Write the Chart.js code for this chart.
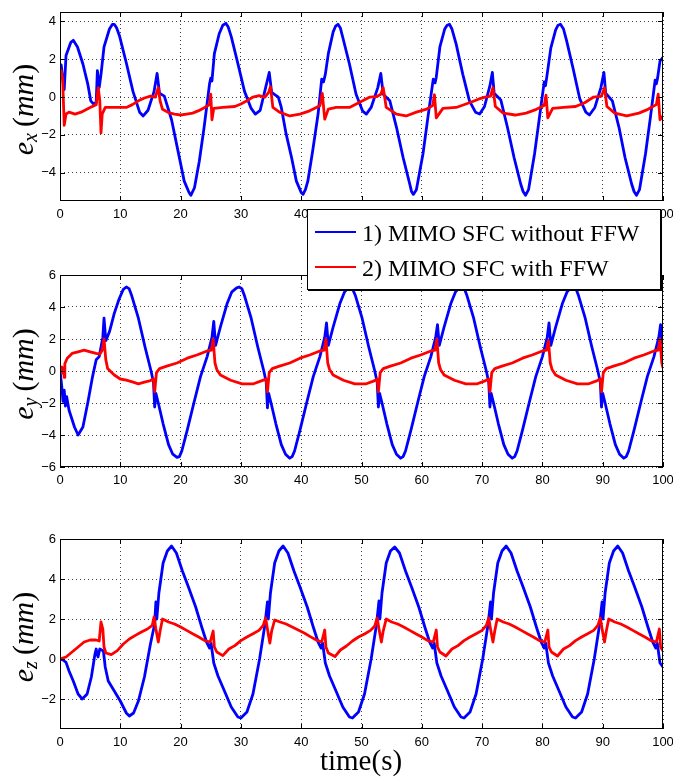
<!DOCTYPE html>
<html>
<head>
<meta charset="utf-8">
<script src="https://cdn.jsdelivr.net/npm/chart.js@4.4.0/dist/chart.umd.min.js"></script>
<style>
  body { margin: 0; background: #fff; }
  #wrap { position: relative; width: 673px; height: 783px; overflow: hidden; }
  canvas { position: absolute; left: 0; }
  #legend {
    position: absolute; left: 307px; top: 209px; width: 352px; height: 79px;
    border: 1px solid #000; box-shadow: 1px 1px 0 #000; background: #fff;
    font: 24px "Liberation Serif", serif; color: #000; z-index: 5;
  }
  .swatch { position: absolute; left: 7px; width: 41px; height: 2px; }
  .label { position: absolute; left: 54px; height: 24px; line-height: 24px; white-space: nowrap; }
</style>
</head>
<body>
<div id="wrap">
  <canvas id="cx" width="673" height="225" style="top:0px"></canvas>
  <canvas id="cy" width="673" height="228" style="top:263px"></canvas>
  <canvas id="cz" width="673" height="256" style="top:527px"></canvas>
  <div id="legend"></div>
</div>
<script>
const seriesNames = ['1) MIMO SFC without FFW', '2) MIMO SFC with FFW'];
const seriesColors = ['#0000ff', '#ff0000'];

const xTicks = [0, 10, 20, 30, 40, 50, 60, 70, 80, 90, 100];
const exTicks = [-4, -2, 0, 2, 4];
const eyTicks = [-6, -4, -2, 0, 2, 4, 6];
const ezTicks = [-2, 0, 2, 4, 6];

// e_x, without FFW (blue)
const exBlueT = [
  0, 0.2, 0.4, 0.7, 1.0, 1.8, 2.2, 2.9, 3.8, 4.6, 5.1, 5.5, 6.0, 6.2, 6.5, 6.8, 7.3, 8.2, 8.7,
  9.0, 9.4, 9.9, 11.0, 12.1, 13.2, 13.8, 14.6, 15.6, 16.1, 16.5, 17.3, 18.5, 19.6, 20.6, 21.4, 21.7, 22.3, 23.1, 23.9, 24.8, 25.0, 25.2, 25.6, 26.4, 27.0,
  27.5, 27.9, 28.4, 29.4, 30.6, 31.7, 32.4, 33.2, 34.1, 34.7, 35.1, 36.2, 36.7, 37.5, 38.4, 39.2, 40.0, 40.3, 40.7, 41.1, 41.9, 42.8, 43.4, 43.7, 44.0, 44.5, 45.3, 45.7,
  46.1, 46.5, 46.9, 48.0, 49.1, 50.2, 50.8, 51.6, 52.7, 53.2, 53.6, 54.7, 55.8, 56.9, 58.0, 58.3, 58.6, 59.1, 60.2, 61.0, 61.9, 62.2, 62.4, 63.0, 63.8, 64.2,
  64.6, 65.0, 65.7, 66.8, 67.9, 68.9, 69.6, 70.4, 71.3, 71.7, 72.0, 73.1, 74.2, 75.3, 76.4, 76.8, 77.2, 77.7, 78.7, 79.5, 80.3, 80.5, 80.7, 81.4, 82.2, 82.6,
  83.0, 83.5, 84.0, 85.1, 86.2, 87.2, 87.8, 88.7, 89.7, 90.2, 90.5, 91.6, 92.7, 93.7, 94.8, 95.2, 95.6, 96.1, 97.1, 97.9, 98.7, 98.9, 99.1, 99.5, 100
];
const exBlueV = [
  1.3, 1.7, 1.1, 0.4, 2.2, 2.9, 3.0, 2.65, 1.75, 0.7, -0.2, -0.35, -0.3, 1.4, 0.5, 1.2, 2.65, 3.6, 3.85,
  3.85, 3.65, 3.2, 1.8, 0.3, -0.8, -1.0, -0.7, 0.3, 1.25, 0.2, 0.05, -1.2, -2.9, -4.45, -5.05, -5.2, -4.8, -3.4, -1.6, 0.7, 1.0, 0.85, 2.3, 3.35, 3.8,
  3.9, 3.7, 3.2, 1.9, 0.3, -0.6, -0.9, -0.7, 0.5, 1.3, 0.25, 0.0, -0.55, -1.95, -3.2, -4.45, -5.05, -5.15, -4.9, -4.45, -2.85, -0.9, 0.95, 0.8, 1.2, 2.3, 3.45, 3.75,
  3.85, 3.65, 3.15, 1.75, 0.15, -0.75, -0.9, -0.55, 0.5, 1.25, 0.15, -0.2, -1.6, -3.2, -4.6, -5.0, -5.15, -4.9, -3.0, -1.1, 0.95, 0.75, 1.05, 2.65, 3.6, 3.8,
  3.85, 3.6, 2.8, 1.2, -0.2, -0.8, -0.9, -0.5, 0.6, 1.3, 0.2, -0.15, -1.6, -3.2, -4.6, -5.0, -5.2, -4.9, -3.0, -1.1, 0.8, 0.6, 1.0, 2.6, 3.55, 3.8,
  3.85, 3.6, 3.0, 1.5, -0.1, -0.8, -0.95, -0.55, 0.5, 1.3, 0.2, -0.2, -1.6, -3.2, -4.6, -5.0, -5.2, -4.9, -3.0, -1.1, 0.9, 0.7, 1.0, 1.9, 2.1
];

// e_x, with FFW (red)
const exRedT = [
  0, 0.2, 0.45, 0.7, 1.0, 1.5, 2.5, 3.5, 5.0, 6.0, 6.35, 6.6, 6.8, 7.0, 7.5,
  9.0, 11.0, 12.0, 13.0, 14.0, 15.0, 15.8, 16.3, 16.6, 17.0, 18.0, 19.0, 20.0, 21.0, 22.0, 23.0, 24.0, 24.8, 25.0, 25.2, 25.5, 27.0,
  29.0, 30.0, 31.0, 32.0, 33.0, 34.0, 34.6, 34.9, 35.3, 36.4, 38.1, 39.8, 41.4, 43.1, 43.5, 43.9, 44.5, 45.8,
  48.0, 49.7, 51.4, 52.5, 53.2, 53.6, 54.1, 55.8, 57.4, 59.1, 60.8, 61.8, 62.1, 62.4, 63.5, 65.7,
  67.9, 69.5, 70.5, 71.4, 71.8, 72.2, 73.5, 75.5, 77.3, 79.0, 80.3, 80.6, 80.9, 81.7, 83.5,
  85.5, 87.0, 88.5, 89.8, 90.3, 90.7, 92.0, 94.0, 96.0, 97.5, 98.9, 99.2, 99.5, 100
];
const exRedV = [
  1.3, 1.4, 0.9, -1.5, -0.9, -0.8, -0.9, -0.8, -0.55, -0.4, 0.5, -0.2, -1.9, -0.9, -0.55,
  -0.55, -0.55, -0.4, -0.2, -0.05, 0.05, 0.0, 0.5, -0.2, -0.65, -0.82, -0.9, -0.95, -0.9, -0.85, -0.72, -0.55, -0.4, 0.15, -1.2, -0.6, -0.55,
  -0.5, -0.37, -0.2, 0.0, 0.07, 0.0, 0.25, 0.55, -0.55, -0.8, -1.0, -0.9, -0.73, -0.46, 0.2, -1.17, -0.64, -0.55,
  -0.55, -0.28, 0.0, 0.02, 0.15, 0.5, -0.55, -0.9, -1.0, -0.8, -0.64, -0.45, 0.12, -1.1, -0.6, -0.55,
  -0.3, -0.1, 0.0, 0.05, 0.5, -0.5, -0.85, -0.95, -0.85, -0.65, -0.45, 0.1, -1.1, -0.6, -0.55,
  -0.5, -0.3, 0.0, 0.05, 0.5, -0.5, -0.85, -1.0, -0.85, -0.65, -0.4, 0.15, -1.2, -1.0
];

// e_y, without FFW (blue)
const eyBlueT = [
  0, 0.3, 0.5, 0.7, 0.9, 1.1, 1.5, 2.4, 3.0, 3.8, 4.6, 5.4, 6.0, 6.5, 7.1, 7.3, 7.6, 8.2, 9.0, 9.8, 10.5,
  11.0, 11.45, 11.9, 13.0, 14.1, 15.1, 15.5, 15.7, 15.9, 16.3, 17.1, 18.0, 18.7, 19.4, 19.8, 20.2, 21.1, 22.2, 23.3, 24.4, 25.2, 25.5, 25.8, 26.6, 27.7, 28.5, 29.3,
  29.7, 30.15, 30.6, 31.7, 32.8, 33.8, 34.2, 34.4, 34.6, 35.0, 35.8, 36.7, 37.4, 38.1, 38.5, 38.9, 39.8, 40.9, 42.0, 43.1, 43.9, 44.2, 44.5, 45.3, 46.4, 47.2, 47.7,
  48.1, 48.55, 49.0, 50.1, 51.2, 52.2, 52.6, 52.8, 53.0, 53.4, 54.2, 55.1, 55.8, 56.5, 56.9, 57.3, 58.2, 59.3, 60.4, 61.5, 62.3, 62.6, 62.9, 63.7, 64.8, 65.6, 66.2,
  66.6, 67.05, 67.5, 68.6, 69.7, 70.7, 71.1, 71.3, 71.5, 71.9, 72.7, 73.6, 74.3, 75.0, 75.4, 75.8, 76.7, 77.8, 78.9, 80.0, 80.8, 81.1, 81.4, 82.2, 83.3, 84.1, 84.7,
  85.1, 85.55, 86.0, 87.1, 88.2, 89.2, 89.6, 89.8, 90.0, 90.4, 91.2, 92.1, 92.8, 93.5, 93.9, 94.3, 95.2, 96.3, 97.4, 98.5, 99.3, 99.6, 99.85, 100
];
const eyBlueV = [
  0.05, -1.0, -1.9, -1.2, -2.2, -1.6, -2.45, -3.5, -4.0, -3.5, -2.0, -0.35, 0.7, 0.9, 2.1, 3.3, 1.9, 2.45, 3.6, 4.5, 5.1,
  5.25, 5.15, 4.7, 3.3, 1.5, 0.0, -0.7, -2.25, -1.4, -2.0, -3.3, -4.6, -5.2, -5.4, -5.35, -5.0, -3.7, -2.0, -0.35, 0.9, 2.1, 3.1, 1.6, 2.75, 4.2, 4.95, 5.2,
  5.25, 5.15, 4.7, 3.3, 1.5, 0.0, -0.7, -2.3, -1.4, -2.0, -3.3, -4.6, -5.2, -5.45, -5.35, -5.0, -3.7, -2.0, -0.35, 0.9, 2.1, 3.0, 1.6, 2.75, 4.2, 4.95, 5.15,
  5.2, 5.1, 4.7, 3.3, 1.5, 0.0, -0.7, -2.25, -1.4, -2.0, -3.3, -4.6, -5.2, -5.45, -5.35, -5.0, -3.7, -2.0, -0.35, 0.9, 2.1, 2.9, 1.6, 2.75, 4.2, 4.95, 5.2,
  5.25, 5.15, 4.7, 3.3, 1.5, 0.0, -0.7, -2.25, -1.4, -2.0, -3.3, -4.6, -5.2, -5.45, -5.35, -5.0, -3.7, -2.0, -0.35, 0.9, 2.1, 3.0, 1.6, 2.75, 4.2, 4.95, 5.2,
  5.25, 5.15, 4.7, 3.3, 1.5, 0.0, -0.7, -2.25, -1.4, -2.0, -3.3, -4.6, -5.2, -5.45, -5.35, -5.0, -3.7, -2.0, -0.35, 0.9, 2.1, 2.9, 1.7, 2.0
];

// e_y, with FFW (red)
const eyRedT = [
  0, 0.3, 0.5, 0.6, 0.7, 0.8, 1.2, 2.0, 3.0, 4.0, 5.0, 6.0, 6.6, 7.0, 7.3, 7.6, 7.9, 9.0, 10.0, 11.0, 12.0, 13.0, 14.0, 15.0, 15.5,
  15.7, 16.0, 16.5, 17.7, 19.4, 21.1, 22.7, 24.4, 25.1, 25.4, 25.7, 26.0, 26.6, 28.3, 30.2, 32.1, 33.5, 34.2,
  34.4, 34.7, 35.2, 36.4, 38.1, 39.8, 41.4, 43.1, 43.8, 44.1, 44.4, 44.7, 45.3, 47.0, 48.9, 50.8, 52.2, 52.6,
  52.8, 53.1, 53.6, 54.8, 56.5, 58.2, 59.8, 61.5, 62.2, 62.5, 62.8, 63.1, 63.7, 65.4, 67.3, 69.2, 70.6, 71.1,
  71.3, 71.6, 72.1, 73.3, 75.0, 76.7, 78.3, 80.0, 80.7, 81.0, 81.3, 81.6, 82.2, 83.9, 85.8, 87.7, 89.1, 89.6,
  89.8, 90.1, 90.6, 91.8, 93.5, 95.2, 96.8, 98.5, 99.2, 99.5, 99.8, 100
];
const eyRedV = [
  0.15, 0.25, -0.15, 0.2, -0.4, 0.45, 0.8, 1.1, 1.2, 1.3, 1.2, 1.1, 1.05, 1.3, 2.0, 0.7, 0.15, -0.25, -0.5, -0.57, -0.68, -0.8, -0.7, -0.6, -0.5,
  -1.3, -0.1, 0.15, 0.3, 0.5, 0.8, 1.0, 1.25, 1.3, 2.0, 0.5, 0.1, -0.25, -0.58, -0.8, -0.8, -0.6, -0.5,
  -1.3, -0.1, 0.15, 0.3, 0.5, 0.8, 1.0, 1.25, 1.3, 2.0, 0.5, 0.1, -0.25, -0.58, -0.8, -0.8, -0.6, -0.5,
  -1.3, -0.1, 0.15, 0.3, 0.5, 0.8, 1.0, 1.25, 1.3, 2.0, 0.5, 0.1, -0.25, -0.58, -0.8, -0.8, -0.6, -0.5,
  -1.3, -0.1, 0.15, 0.3, 0.5, 0.8, 1.0, 1.25, 1.3, 1.9, 0.5, 0.1, -0.25, -0.58, -0.8, -0.8, -0.6, -0.5,
  -1.3, -0.1, 0.15, 0.3, 0.5, 0.8, 1.0, 1.25, 1.3, 2.0, 0.5, 0.2
];

// e_z, without FFW (blue)
const ezBlueT = [
  0, 0.5, 1.0, 1.5, 2.2, 3.0, 3.7, 4.5, 5.2, 5.8, 6.0, 6.3, 6.6, 7.2, 7.5, 8.0, 9.0, 10.0, 11.0, 11.5, 12.2, 13.0, 14.0, 15.0, 15.7,
  15.9, 16.05, 16.4, 17.1, 17.8, 18.5, 19.3, 20.3, 21.3, 22.5, 23.5, 24.3, 24.8, 25.05, 25.5, 26.2, 27.2, 28.4, 29.5, 30.0, 31.0, 32.0, 33.1, 34.0,
  34.4, 34.55, 34.9, 35.6, 36.3, 37.0, 37.8, 38.8, 39.8, 41.0, 42.0, 42.8, 43.3, 43.55, 44.0, 44.7, 45.7, 46.9, 48.0, 48.5, 49.5, 50.5, 51.6, 52.5,
  52.9, 53.05, 53.4, 54.1, 54.8, 55.5, 56.3, 57.3, 58.3, 59.5, 60.5, 61.3, 61.8, 62.05, 62.5, 63.2, 64.2, 65.4, 66.5, 67.0, 68.0, 69.0, 70.1, 71.0,
  71.4, 71.55, 71.9, 72.6, 73.3, 74.0, 74.8, 75.8, 76.8, 78.0, 79.0, 79.8, 80.3, 80.55, 81.0, 81.7, 82.7, 83.9, 85.0, 85.5, 86.5, 87.5, 88.6, 89.5,
  89.9, 90.05, 90.4, 91.1, 91.8, 92.5, 93.3, 94.3, 95.3, 96.5, 97.5, 98.3, 98.8, 99.05, 99.5, 100
];
const ezBlueV = [
  0, -0.05, -0.17, -0.6, -1.1, -1.75, -2.0, -1.75, -0.9, 0.25, 0.5, 0.1, 0.5, 0.4, -0.4, -1.1, -1.6, -2.1, -2.7, -2.85, -2.7, -2.1, -0.9, 0.75, 1.75,
  2.85, 2.0, 3.3, 4.8, 5.4, 5.65, 5.3, 4.4, 3.6, 2.6, 1.6, 0.85, 0.55, 0.8, -0.2, -0.85, -1.55, -2.4, -2.9, -2.95, -2.65, -1.75, 0.0, 1.75,
  2.85, 2.0, 3.3, 4.8, 5.4, 5.65, 5.3, 4.4, 3.6, 2.6, 1.6, 0.85, 0.55, 0.8, -0.2, -0.85, -1.55, -2.4, -2.9, -2.95, -2.65, -1.75, 0.0, 1.75,
  2.9, 2.0, 3.3, 4.8, 5.4, 5.6, 5.3, 4.4, 3.6, 2.6, 1.6, 0.85, 0.55, 0.8, -0.2, -0.85, -1.55, -2.4, -2.9, -2.95, -2.65, -1.75, 0.0, 1.75,
  2.85, 2.0, 3.3, 4.8, 5.4, 5.65, 5.3, 4.4, 3.6, 2.6, 1.6, 0.85, 0.55, 0.8, -0.2, -0.85, -1.55, -2.4, -2.9, -2.95, -2.65, -1.75, 0.0, 1.75,
  2.85, 2.0, 3.3, 4.8, 5.4, 5.65, 5.3, 4.4, 3.6, 2.6, 1.6, 0.85, 0.55, 0.8, -0.2, -0.4
];

// e_z, with FFW (red)
const ezRedT = [
  0, 1.0, 2.0, 3.0, 4.0, 5.0, 6.0, 6.5, 6.8, 7.1, 7.3, 7.6, 8.5, 9.5, 10.5, 11.5, 12.5, 13.5, 14.5, 15.3,
  15.6, 15.9, 16.3, 16.6, 17.0, 18.0, 19.0, 20.0, 21.0, 22.0, 23.0, 24.0, 24.9, 25.4, 25.6, 26.0, 27.0, 28.0, 29.0, 30.0, 31.0, 32.0, 33.0, 33.7,
  34.1, 34.4, 34.8, 35.1, 35.6, 36.5, 37.5, 38.5, 39.5, 40.5, 41.5, 42.5, 43.4, 43.9, 44.1, 44.5, 45.6, 46.5, 47.5, 48.5, 49.5, 50.5, 51.5, 52.2,
  52.6, 52.9, 53.3, 53.6, 54.1, 55.0, 56.0, 57.0, 58.0, 59.0, 60.0, 61.0, 61.9, 62.4, 62.6, 63.0, 64.0, 65.0, 66.0, 67.0, 68.0, 69.0, 70.0, 70.7,
  71.1, 71.4, 71.8, 72.1, 72.5, 73.5, 74.5, 75.5, 76.5, 77.5, 78.5, 79.5, 80.4, 80.9, 81.1, 81.5, 82.5, 83.5, 84.5, 85.5, 86.5, 87.5, 88.5, 89.2,
  89.6, 89.9, 90.3, 90.6, 91.0, 92.0, 93.0, 94.0, 95.0, 96.0, 97.0, 98.0, 98.9, 99.4, 99.6, 100
];
const ezRedV = [
  0, 0.1, 0.35, 0.6, 0.85, 0.95, 0.95, 0.9, 1.85, 1.5, 0.6, 0.3, 0.22, 0.42, 0.75, 1.0, 1.18, 1.35, 1.5, 1.68,
  2.1, 1.5, 0.85, 1.4, 2.0, 1.85, 1.75, 1.6, 1.43, 1.26, 1.1, 0.92, 0.85, 1.4, 0.6, 0.35, 0.17, 0.5, 0.67, 0.92, 1.1, 1.26, 1.43, 1.68,
  2.05, 1.5, 0.8, 1.4, 1.95, 1.85, 1.75, 1.6, 1.45, 1.3, 1.12, 0.95, 0.85, 1.45, 0.6, 0.3, 0.12, 0.45, 0.65, 0.9, 1.1, 1.25, 1.43, 1.65,
  2.05, 1.5, 0.85, 1.4, 2.0, 1.85, 1.75, 1.6, 1.43, 1.26, 1.1, 0.92, 0.85, 1.45, 0.6, 0.35, 0.15, 0.5, 0.67, 0.92, 1.1, 1.26, 1.43, 1.68,
  2.05, 1.5, 0.85, 1.4, 2.0, 1.85, 1.75, 1.6, 1.43, 1.26, 1.1, 0.92, 0.85, 1.45, 0.6, 0.35, 0.15, 0.5, 0.67, 0.92, 1.1, 1.26, 1.43, 1.68,
  2.05, 1.5, 0.85, 1.4, 2.0, 1.85, 1.75, 1.6, 1.43, 1.26, 1.1, 0.92, 0.85, 1.5, 0.6, 0.4
];

const SERIF = '"Liberation Serif", "Times New Roman", serif';
const SANS = '"Liberation Sans", Arial, sans-serif';

function toPoints(ts, vs) {
  return ts.map((t, i) => ({ x: t, y: vs[i] }));
}

// frame, inward tick marks and the LaTeX-ish axis labels
const framePlugin = {
  id: 'frame',
  afterDraw(chart, args, opts) {
    const { ctx, chartArea: a, scales } = chart;
    ctx.save();
    ctx.strokeStyle = '#000';
    ctx.lineWidth = 1;
    ctx.beginPath();
    scales.x.ticks.forEach(t => {
      const px = Math.round(scales.x.getPixelForValue(t.value)) + 0.5;
      ctx.moveTo(px, a.bottom); ctx.lineTo(px, a.bottom - 5);
      ctx.moveTo(px, a.top); ctx.lineTo(px, a.top + 5);
    });
    scales.y.ticks.forEach(t => {
      const py = Math.round(scales.y.getPixelForValue(t.value)) + 0.5;
      ctx.moveTo(a.left, py); ctx.lineTo(a.left + 5, py);
      ctx.moveTo(a.right, py); ctx.lineTo(a.right - 5, py);
    });
    ctx.stroke();
    ctx.strokeRect(a.left + 0.5, a.top + 0.5, a.width - 1, a.height - 1);

    // y label: e_sub (mm)
    const big = 30, small = 20;
    const parts = [
      { t: 'e', f: `italic ${big}px ${SERIF}`, dy: 0 },
      { t: opts.sub, f: `italic ${small}px ${SERIF}`, dy: 4 },
      { t: '', f: `${big}px ${SERIF}`, dy: 0, gap: 6 },
      { t: '(', f: `${big}px ${SERIF}`, dy: 0 },
      { t: 'mm', f: `italic ${big}px ${SERIF}`, dy: 0 },
      { t: ')', f: `${big}px ${SERIF}`, dy: 0 }
    ];
    let total = 0;
    parts.forEach(p => { ctx.font = p.f; p.w = ctx.measureText(p.t).width + (p.gap || 0); total += p.w; });
    ctx.translate(33, (a.top + a.bottom) / 2 + 3);
    ctx.rotate(-Math.PI / 2);
    ctx.fillStyle = '#000';
    ctx.textBaseline = 'alphabetic';
    ctx.textAlign = 'left';
    let x = -total / 2;
    parts.forEach(p => { ctx.font = p.f; ctx.fillText(p.t, x, p.dy); x += p.w; });
    ctx.restore();

    if (opts.time) {
      ctx.save();
      ctx.font = `29px ${SERIF}`;
      ctx.fillStyle = '#000';
      ctx.textAlign = 'center';
      ctx.textBaseline = 'alphabetic';
      ctx.fillText('time(s)', 361, chart.height - 13);
      ctx.restore();
    }
  }
};

function makePanel(id, blueT, blueV, redT, redV, yMin, yMax, yTicks, sub, padBottom, time) {
  return new Chart(document.getElementById(id), {
    type: 'line',
    data: {
      datasets: [
        { label: seriesNames[1], data: toPoints(redT, redV), borderColor: seriesColors[1], borderWidth: 2.8, order: 0 },
        { label: seriesNames[0], data: toPoints(blueT, blueV), borderColor: seriesColors[0], borderWidth: 2.8, order: 1 }
      ]
    },
    options: {
      responsive: false,
      animation: false,
      devicePixelRatio: 1,
      layout: { padding: { top: 12, right: 10, bottom: padBottom, left: 0 } },
      elements: { point: { radius: 0 }, line: { tension: 0, borderJoinStyle: 'round' } },
      plugins: { legend: { display: false }, tooltip: { enabled: false }, frame: { sub: sub, time: time } },
      scales: {
        x: {
          type: 'linear', min: 0, max: 100,
          afterBuildTicks: s => { s.ticks = xTicks.map(v => ({ value: v })); },
          afterFit: s => { s.height = 24; s.paddingLeft = 0; s.paddingRight = 0; },
          ticks: { color: '#000', font: { family: SANS, size: 13 }, padding: 6, maxRotation: 0, autoSkip: false },
          grid: { color: '#444', lineWidth: 1, drawTicks: false },
          border: { display: false, dash: [1, 3] }
        },
        y: {
          min: yMin, max: yMax,
          afterBuildTicks: s => { s.ticks = yTicks.map(v => ({ value: v })); },
          afterFit: s => { s.width = 60; s.paddingTop = 0; s.paddingBottom = 0; },
          ticks: {
            color: '#000', font: { family: SANS, size: 13 }, padding: 4,
            callback: v => String(v).replace('-', '\u2212')
          },
          grid: { color: '#444', lineWidth: 1, drawTicks: false },
          border: { display: false, dash: [1, 3] }
        }
      }
    },
    plugins: [framePlugin]
  });
}

makePanel('cx', exBlueT, exBlueV, exRedT, exRedV, -5.5, 4.5, exTicks, 'x', 0, false);
makePanel('cy', eyBlueT, eyBlueV, eyRedT, eyRedV, -6, 6, eyTicks, 'y', 0, false);
makePanel('cz', ezBlueT, ezBlueV, ezRedT, ezRedV, -3.5, 6, ezTicks, 'z', 30, true);

// legend box drawn over the first two panels, as in the figure
const legend = document.getElementById('legend');
const rowTops = [21, 56];
seriesNames.forEach((name, i) => {
  const sw = document.createElement('div');
  sw.className = 'swatch';
  sw.style.top = rowTops[i] + 'px';
  sw.style.background = seriesColors[i];
  legend.appendChild(sw);
  const lab = document.createElement('div');
  lab.className = 'label';
  lab.style.top = (rowTops[i] - 10) + 'px';
  lab.textContent = name;
  legend.appendChild(lab);
});
</script>
</body>
</html>
